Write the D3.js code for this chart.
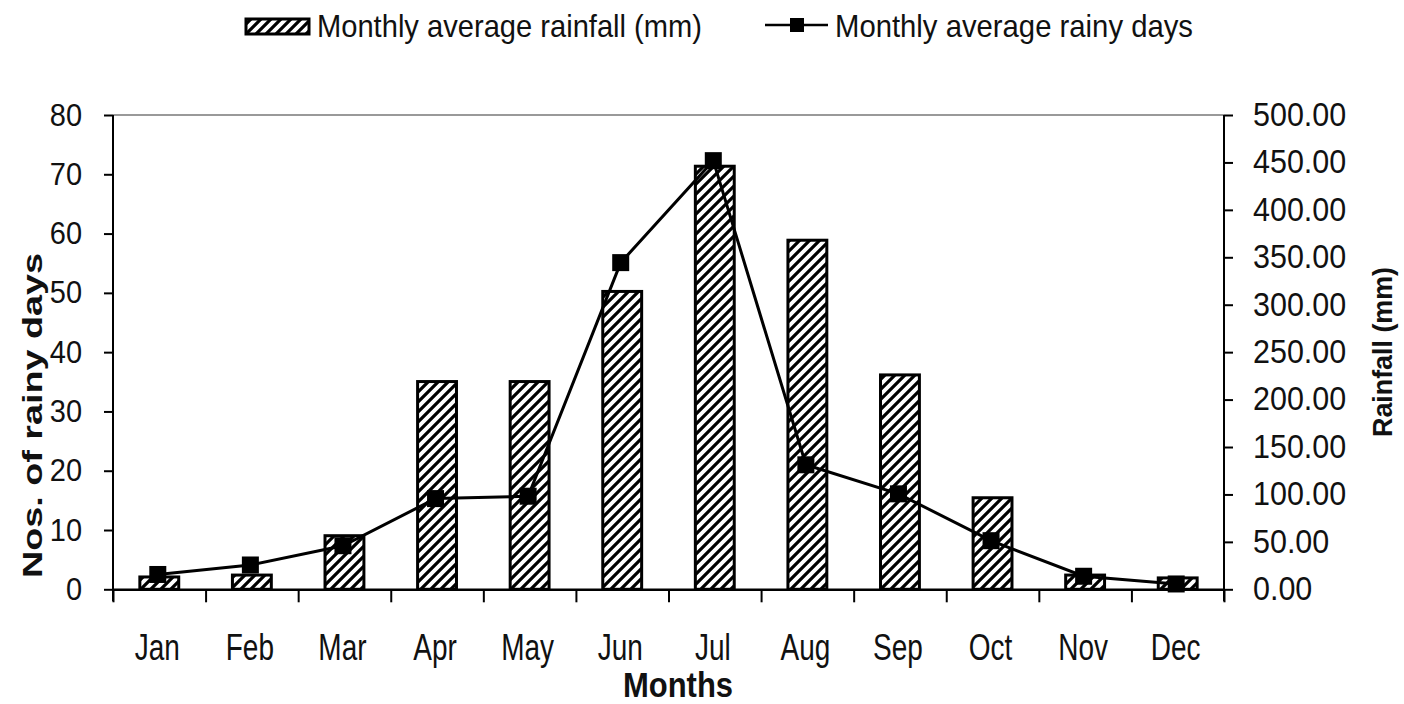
<!DOCTYPE html>
<html>
<head>
<meta charset="utf-8">
<script src="https://cdn.jsdelivr.net/npm/d3@7"></script>
<style>
  html, body { margin: 0; padding: 0; background: #fff; }
  svg { display: block; font-family: "Liberation Sans", Arial, sans-serif; }
</style>
</head>
<body>
<svg id="chart" width="1404" height="704"></svg>
<script>
const months = ["Jan","Feb","Mar","Apr","May","Jun","Jul","Aug","Sep","Oct","Nov","Dec"];
const rainfallMM = [13, 15, 56.5, 219, 219, 314, 446, 368, 226, 96.5, 15, 12];
const rainyDays = [2.5, 4.1, 7.35, 15.3, 15.7, 55.1, 72.3, 21.0, 16.1, 8.2, 2.2, 0.9];
const leftTicks = [0, 10, 20, 30, 40, 50, 60, 70, 80];
const rightTicks = [0, 50, 100, 150, 200, 250, 300, 350, 400, 450, 500];
const legendLabels = ["Monthly average rainfall (mm)", "Monthly average rainy days"];
const leftTitle = "Nos. of rainy days";
const rightTitle = "Rainfall (mm)";
const xTitle = "Months";

const svg = d3.select("#chart");
const L = 113, R = 1224, T = 115, B = 589.3;

const x = d3.scaleBand().domain(months).range([L, R]).padding(0);
const xb = d3.scaleLinear().domain([0, months.length]).range([L, R]);
const yL = d3.scaleLinear().domain([0, 80]).range([B, T]);
const yR = d3.scaleLinear().domain([0, 500]).range([B, T]);

// hatch pattern
const defs = svg.append("defs");
const pat = defs.append("pattern").attr("id", "hatch")
  .attr("patternUnits", "userSpaceOnUse").attr("width", 10).attr("height", 10);
pat.append("rect").attr("width", 10).attr("height", 10).attr("fill", "#fff");
pat.append("path").attr("d", "M-2,2 L2,-2 M0,10 L10,0 M8,12 L12,8")
  .attr("stroke", "#000").attr("stroke-width", 3.2);

// top border
svg.append("line").attr("x1", L).attr("x2", R).attr("y1", T).attr("y2", T)
  .attr("stroke", "#999").attr("stroke-width", 2);

// bars
const bw = x.bandwidth() * 0.42;
svg.append("g").selectAll("rect").data(months).join("rect")
  .attr("x", (d) => x(d) + x.bandwidth() / 2 - bw / 2)
  .attr("width", bw)
  .attr("y", (d, i) => yR(rainfallMM[i]))
  .attr("height", (d, i) => B - yR(rainfallMM[i]))
  .attr("fill", "url(#hatch)")
  .attr("stroke", "#000").attr("stroke-width", 3);

// line
const line = d3.line()
  .x((d, i) => x(months[i]) + x.bandwidth() / 2 - 1.5)
  .y((d) => yL(d));
svg.append("path").datum(rainyDays).attr("d", line)
  .attr("fill", "none").attr("stroke", "#000").attr("stroke-width", 3);
const ms = 17;
svg.append("g").selectAll("rect").data(rainyDays).join("rect")
  .attr("x", (d, i) => x(months[i]) + x.bandwidth() / 2 - 1.5 - ms / 2)
  .attr("y", (d) => yL(d) - ms / 2)
  .attr("width", ms).attr("height", ms).attr("fill", "#000");

// left axis
const gl = svg.append("g").attr("transform", `translate(${L},0)`)
  .call(d3.axisLeft(yL).tickValues(leftTicks).tickSize(9).tickPadding(22).tickSizeOuter(0));
gl.select(".domain").remove();
gl.selectAll(".tick line").attr("stroke", "#000").attr("stroke-width", 2);
gl.selectAll(".tick text").attr("font-size", 29).attr("fill", "#111")
  .attr("font-family", "Liberation Sans, Arial, sans-serif")
  .attr("transform", "scale(1,1.08)");
svg.append("line").attr("x1", L).attr("x2", L).attr("y1", T).attr("y2", B + 12)
  .attr("stroke", "#000").attr("stroke-width", 2);

// right axis
const gr = svg.append("g").attr("transform", `translate(${R},0)`)
  .call(d3.axisRight(yR).tickValues(rightTicks).tickSize(9).tickPadding(20)
    .tickFormat(d3.format(".2f")).tickSizeOuter(0));
gr.select(".domain").remove();
gr.selectAll(".tick line").attr("stroke", "#000").attr("stroke-width", 2);
gr.selectAll(".tick text").attr("font-size", 30.5).attr("fill", "#111")
  .attr("font-family", "Liberation Sans, Arial, sans-serif")
  .attr("transform", "scale(1,1.06)");
svg.append("line").attr("x1", R).attr("x2", R).attr("y1", T).attr("y2", B + 12)
  .attr("stroke", "#000").attr("stroke-width", 2);

// bottom axis
const gb = svg.append("g").attr("transform", `translate(0,${B})`)
  .call(d3.axisBottom(xb).tickValues(d3.range(0, months.length + 1)).tickSize(13)
    .tickFormat("").tickSizeOuter(0));
gb.select(".domain").attr("stroke", "#000").attr("stroke-width", 2.5);
gb.selectAll(".tick line").attr("stroke", "#000").attr("stroke-width", 2);

// month labels
svg.append("g").selectAll("text").data(months).join("text")
  .attr("transform", (d) => `translate(${x(d) + x.bandwidth() / 2 - 2},660) scale(1,1.32)`)
  .attr("text-anchor", "middle").attr("font-size", 28).attr("fill", "#111")
  .text((d) => d);

// axis titles
svg.append("text").attr("transform", "translate(678,697) scale(1,1.12)")
  .attr("text-anchor", "middle").attr("font-size", 31).attr("font-weight", "bold")
  .attr("fill", "#111").text(xTitle);

svg.append("text").attr("transform", "translate(42,415.5) rotate(-90)")
  .attr("text-anchor", "middle").attr("font-size", 28).attr("font-weight", "bold")
  .attr("textLength", 325).attr("lengthAdjust", "spacingAndGlyphs")
  .attr("fill", "#111").text(leftTitle);

svg.append("text").attr("transform", "translate(1392,352) rotate(-90)")
  .attr("text-anchor", "middle").attr("font-size", 28).attr("font-weight", "bold")
  .attr("textLength", 170).attr("lengthAdjust", "spacingAndGlyphs")
  .attr("fill", "#111").text(rightTitle);

// legend
svg.append("rect").attr("x", 246).attr("y", 19).attr("width", 63).attr("height", 15)
  .attr("fill", "url(#hatch)").attr("stroke", "#000").attr("stroke-width", 3);
svg.append("text").attr("transform", "translate(317,37) scale(1,1.05)")
  .attr("font-size", 30).attr("textLength", 385).attr("lengthAdjust", "spacingAndGlyphs")
  .attr("fill", "#111").text(legendLabels[0]);
svg.append("line").attr("x1", 765).attr("x2", 828).attr("y1", 25).attr("y2", 25)
  .attr("stroke", "#000").attr("stroke-width", 2.5);
svg.append("rect").attr("x", 790).attr("y", 18).attr("width", 14).attr("height", 14).attr("fill", "#000");
svg.append("text").attr("transform", "translate(835,37) scale(1,1.05)")
  .attr("font-size", 30).attr("textLength", 358).attr("lengthAdjust", "spacingAndGlyphs")
  .attr("fill", "#111").text(legendLabels[1]);
</script>
</body>
</html>
